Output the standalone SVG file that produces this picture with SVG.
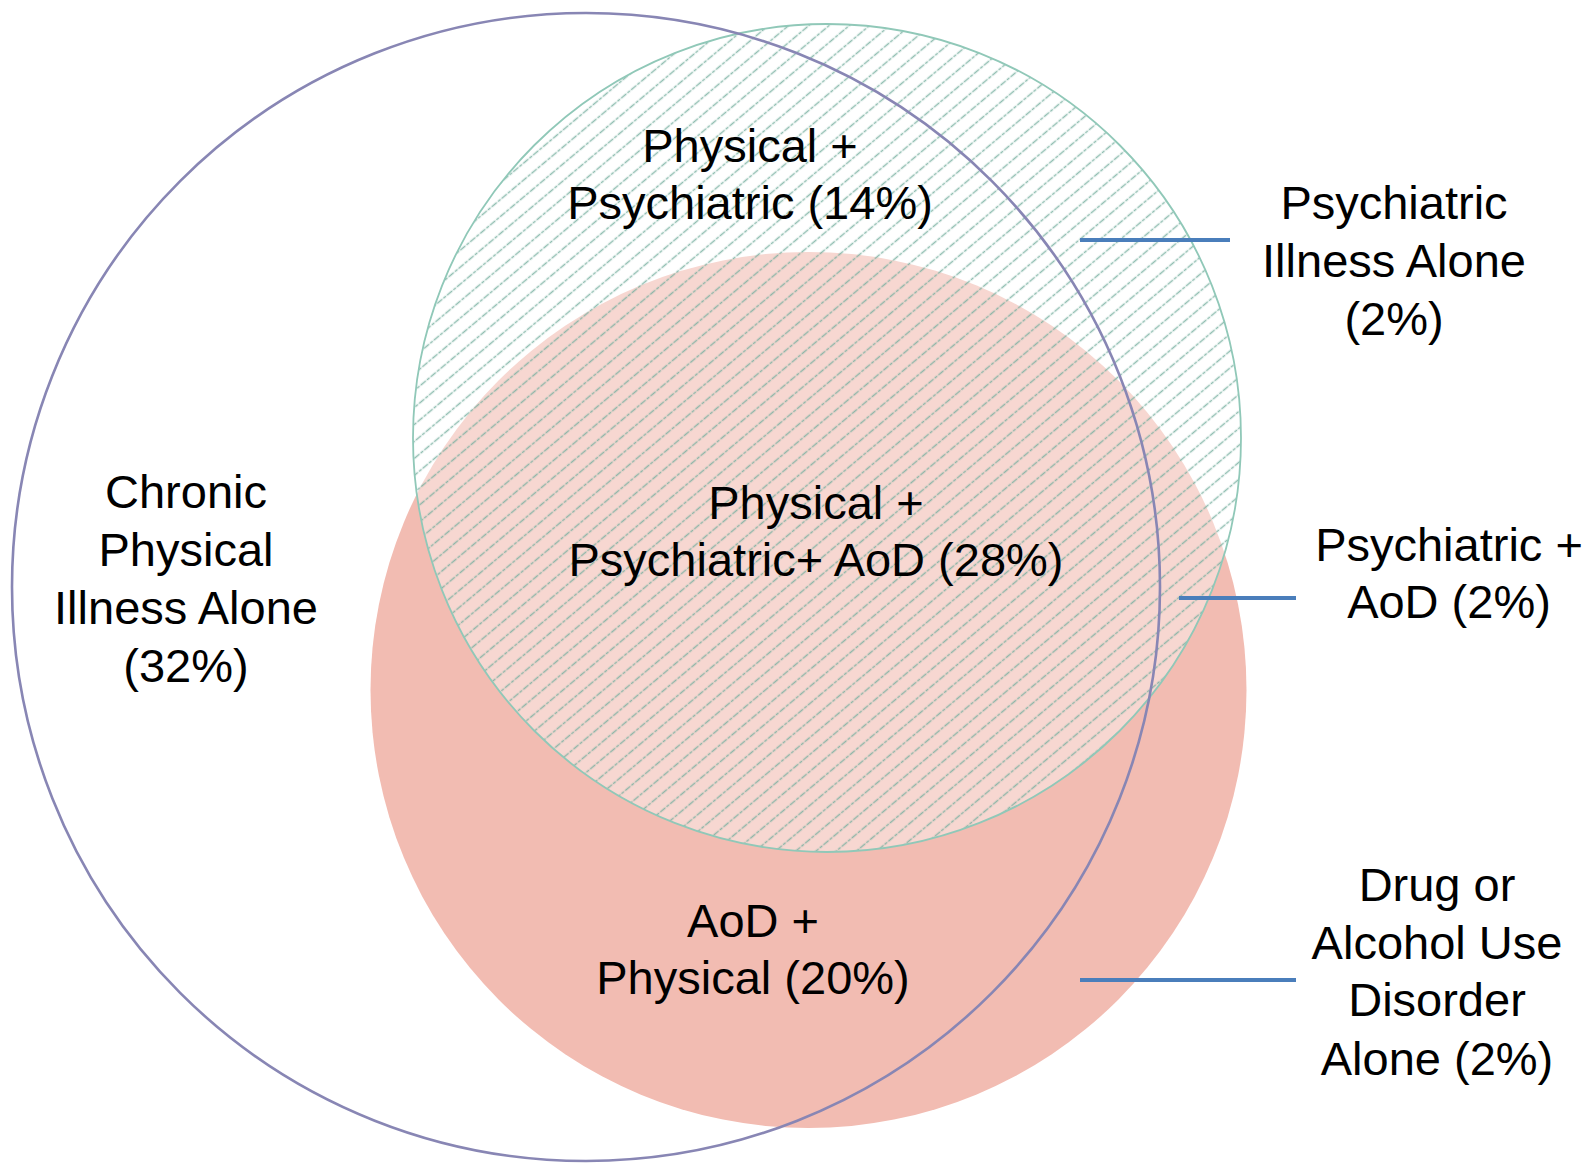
<svg xmlns="http://www.w3.org/2000/svg" width="1594" height="1168" viewBox="0 0 1594 1168">
  <defs>
    <pattern id="hatch" patternUnits="userSpaceOnUse" width="13" height="13" patternTransform="rotate(-40)">
      <line x1="0" y1="6.5" x2="13" y2="6.5" stroke="#74ae9e" stroke-width="1.6" stroke-dasharray="3.5 1.3" stroke-opacity="0.8"/>
    </pattern>
  </defs>
  <style>
    text { font-family: "Liberation Sans", Arial, sans-serif; font-size: 47px; fill: #000; text-anchor: middle; }
    .leader { stroke: #4a7ebb; stroke-width: 4; fill: none; }
  </style>
  <rect width="1594" height="1168" fill="#ffffff"/>

  <g id="aod-circle">
    <circle cx="808.5" cy="690" r="438" fill="#f2bcb2"/>
  </g>
  <g id="psychiatric-circle">
    <circle cx="827" cy="438" r="414" fill="#ffffff" fill-opacity="0.4"/>
    <circle cx="827" cy="438" r="414" fill="url(#hatch)" stroke="#90c8b8" stroke-width="1.8"/>
  </g>
  <g id="physical-circle">
    <circle cx="586" cy="587" r="574" fill="none" stroke="#8886b4" stroke-width="2.6"/>
  </g>

  <g id="connectors">
    <line class="leader" x1="1080" y1="240" x2="1230" y2="240"/>
    <line class="leader" x1="1179" y1="598" x2="1296" y2="598"/>
    <line class="leader" x1="1080" y1="980" x2="1296" y2="980"/>
  </g>

  <g id="label-physical-psychiatric">
    <text x="750" y="162">Physical +</text>
    <text x="750" y="219">Psychiatric (14%)</text>
  </g>
  <g id="label-psychiatric-alone">
    <text x="1394" y="219">Psychiatric</text>
    <text x="1394" y="277">Illness Alone</text>
    <text x="1394" y="335">(2%)</text>
  </g>
  <g id="label-physical-alone">
    <text x="186" y="508">Chronic</text>
    <text x="186" y="566">Physical</text>
    <text x="186" y="624">Illness Alone</text>
    <text x="186" y="682">(32%)</text>
  </g>
  <g id="label-all-three">
    <text x="816" y="519">Physical +</text>
    <text x="816" y="576">Psychiatric+ AoD (28%)</text>
  </g>
  <g id="label-psychiatric-aod">
    <text x="1449" y="561">Psychiatric +</text>
    <text x="1449" y="618">AoD (2%)</text>
  </g>
  <g id="label-aod-physical">
    <text x="753" y="937">AoD +</text>
    <text x="753" y="994">Physical (20%)</text>
  </g>
  <g id="label-aod-alone">
    <text x="1437" y="901">Drug or</text>
    <text x="1437" y="959">Alcohol Use</text>
    <text x="1437" y="1016">Disorder</text>
    <text x="1437" y="1075">Alone (2%)</text>
  </g>
</svg>
